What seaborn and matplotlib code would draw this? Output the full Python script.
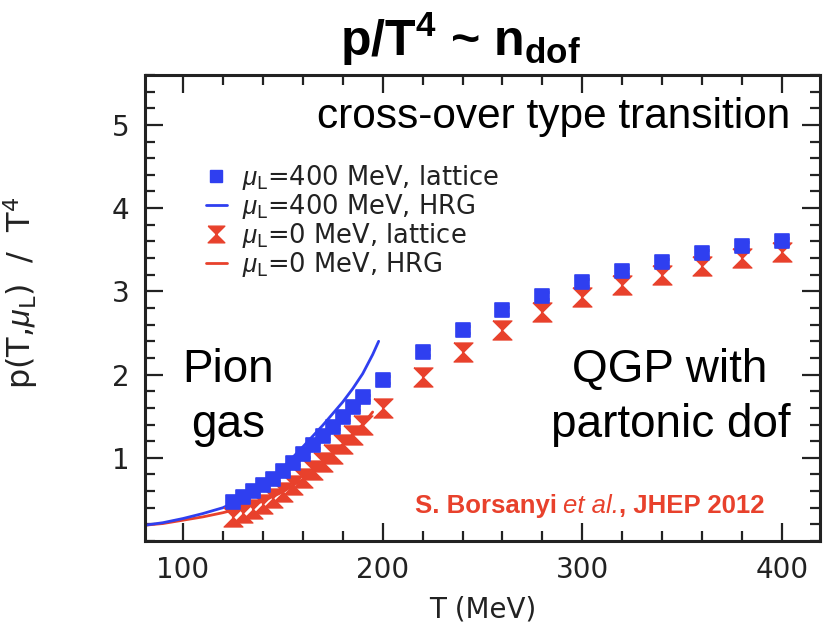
import matplotlib
matplotlib.use("Agg")
import matplotlib.pyplot as plt
import numpy as np
import pandas as pd
import seaborn as sns
from matplotlib.path import Path
from matplotlib.markers import MarkerStyle
from matplotlib.lines import Line2D
from matplotlib.ticker import MultipleLocator, FixedLocator

# Lattice temperatures (MeV)
T_lat = [125, 130, 135, 140, 145, 150, 155, 160, 165, 170, 175, 180, 185, 190,
         200, 220, 240, 260, 280, 300, 320, 340, 360, 380, 400]

# p/T^4 at mu_L = 400 MeV (lattice)
p_mu400_lat = [0.47, 0.53, 0.60, 0.67, 0.75, 0.84, 0.94, 1.04, 1.15, 1.26, 1.37,
               1.49, 1.61, 1.73, 1.94, 2.27, 2.54, 2.77, 2.95, 3.11, 3.245, 3.35,
               3.46, 3.55, 3.60]
err_mu400_lat = [0.03] * 14 + [0.04] * 11

# p/T^4 at mu_L = 0 MeV (lattice)
p_mu0_lat = [0.29, 0.34, 0.39, 0.45, 0.52, 0.59, 0.67, 0.76, 0.85, 0.95, 1.05,
             1.16, 1.27, 1.39, 1.60, 1.97, 2.27, 2.53, 2.75, 2.93, 3.08, 3.20,
             3.30, 3.40, 3.47]
err_mu0_lat = [0.03] * 14 + [0.05] * 11

# Hadron resonance gas curves
T_hrg_400 = [81, 90, 100, 110, 120, 130, 140, 150, 160, 170, 180, 185, 190, 195, 198]
p_hrg_400 = [0.19, 0.22, 0.27, 0.33, 0.40, 0.51, 0.67, 0.88, 1.13, 1.39, 1.67,
             1.83, 2.01, 2.24, 2.40]
T_hrg_0 = [81, 90, 100, 110, 120, 130, 140, 150, 160, 170, 180, 190, 195]
p_hrg_0 = [0.19, 0.21, 0.25, 0.29, 0.34, 0.40, 0.48, 0.59, 0.74, 0.93, 1.16,
           1.40, 1.55]

BLUE = "#2f3ff0"
RED = "#e8412c"
FRAME = "#222222"
INK = "#222222"

sns.set_theme(style="white")
plt.rcParams["font.family"] = ["DejaVu Sans"]
plt.rcParams["mathtext.fontset"] = "custom"
plt.rcParams["mathtext.rm"] = "Liberation Sans"
plt.rcParams["mathtext.bf"] = "Liberation Sans:bold"
plt.rcParams["mathtext.it"] = "Liberation Sans:italic"
plt.rcParams["mathtext.sf"] = "DejaVu Sans"

W, H = 830, 636
fig = plt.figure(figsize=(W / 100, H / 100), dpi=100)
ax = fig.add_axes([145 / W, 1 - 541 / H, (820 - 145) / W, (541 - 75) / H])

lat = pd.DataFrame({"T": T_lat, "p400": p_mu400_lat, "p0": p_mu0_lat,
                    "e400": err_mu400_lat, "e0": err_mu0_lat})
hrg400 = pd.DataFrame({"T": T_hrg_400, "p": p_hrg_400})
hrg0 = pd.DataFrame({"T": T_hrg_0, "p": p_hrg_0})

hourglass = MarkerStyle(Path([(-1, 1), (1, 1), (-1, -1), (1, -1), (-1, 1)]))

# HRG curves
sns.lineplot(data=hrg0, x="T", y="p", color=RED, lw=2, ax=ax, sort=False, zorder=1)
sns.lineplot(data=hrg400, x="T", y="p", color=BLUE, lw=2, ax=ax, sort=False, zorder=2)

# lattice points with error bars
ax.errorbar(lat["T"], lat["p0"], yerr=lat["e0"], fmt="none", ecolor=RED,
            elinewidth=1.5, capsize=0, zorder=3)
sns.scatterplot(data=lat, x="T", y="p0", marker=hourglass, s=190, color=RED,
                edgecolor=RED, linewidth=0.8, ax=ax, zorder=4)
ax.errorbar(lat["T"], lat["p400"], yerr=lat["e400"], fmt="none", ecolor=BLUE,
            elinewidth=1.5, capsize=5, capthick=2, zorder=5)
sns.scatterplot(data=lat, x="T", y="p400", marker="s", s=115, color=BLUE,
                edgecolor=BLUE, linewidth=1.2, ax=ax, zorder=6)

ax.set_xlim(81, 419)
ax.set_ylim(0, 5.6)
ax.xaxis.set_major_locator(FixedLocator([100, 200, 300, 400]))
ax.xaxis.set_minor_locator(MultipleLocator(20))
ax.yaxis.set_major_locator(FixedLocator([1, 2, 3, 4, 5]))
ax.yaxis.set_minor_locator(MultipleLocator(0.2))
ax.tick_params(which="both", direction="in", top=True, right=True, bottom=True,
               left=True, color=FRAME, width=1.6, labelsize=20, labelcolor=INK)
ax.tick_params(which="major", length=13, pad=11)
ax.tick_params(which="minor", length=7)
for s in ax.spines.values():
    s.set_color(FRAME)
    s.set_linewidth(2.2)

ax.set_xlabel("T (MeV)", fontsize=20, color=INK, labelpad=8)
ax.set_ylabel(r"p(T,$\mu_\mathsf{L}$)  /  T$^\mathsf{4}$", fontsize=23, color=INK)
ax.yaxis.set_label_coords((40 - 145) / 675, (541 - 293) / 466)

# legend
handles = [
    Line2D([], [], marker="s", color=BLUE, linestyle="none", markersize=9),
    Line2D([], [], color=BLUE, lw=2),
    Line2D([], [], marker=hourglass, color=RED, linestyle="none", markersize=12),
    Line2D([], [], color=RED, lw=2),
]
labels = [r"$\mu_\mathsf{L}$=400 MeV, lattice", r"$\mu_\mathsf{L}$=400 MeV, HRG",
          r"$\mu_\mathsf{L}$=0 MeV, lattice", r"$\mu_\mathsf{L}$=0 MeV, HRG"]
leg = ax.legend(handles, labels, loc="upper left", frameon=False, fontsize=18.5,
                bbox_to_anchor=((206 - 145) / 675, (541 - 163) / 466),
                handlelength=0.8, handletextpad=0.6, labelspacing=0.0,
                borderpad=0, borderaxespad=0)
for t in leg.get_texts():
    t.set_color(INK)

# annotations
ax.text(404, 4.96, "cross-over type transition", ha="right", va="baseline",
        fontsize=30.5, family="Liberation Sans", color="black")
ax.text(122.5, 1.91, "Pion", ha="center", va="baseline", fontsize=33,
        family="Liberation Sans", color="black")
ax.text(122.5, 1.25, "gas", ha="center", va="baseline", fontsize=33,
        family="Liberation Sans", color="black")
ax.text(343.5, 1.91, "QGP with", ha="center", va="baseline", fontsize=33,
        family="Liberation Sans", color="black")
ax.text(344.5, 1.25, "partonic dof", ha="center", va="baseline", fontsize=33,
        family="Liberation Sans", color="black")

# citation line: bold / italic / bold pieces set side by side
renderer = fig.canvas.get_renderer()
cite_parts = [("S. Borsanyi", "bold", "normal", 6),
              ("et al.", "normal", "italic", 0),
              (", JHEP 2012", "bold", "normal", 0)]
x_px, base_px = 415.0, H - 513.0
for txt, wt, st, gap in cite_parts:
    t = fig.text(x_px / W, base_px / H, txt, ha="left", va="baseline",
                 fontsize=18.5, family="Liberation Sans", weight=wt, style=st,
                 color=RED)
    x_px += t.get_window_extent(renderer).width + gap

fig.text(460 / W, 1 - 56 / H, r"p/T$^\mathbf{4}$ ~ n$_\mathbf{dof}$",
         ha="center", va="baseline", fontsize=36, color="black",
         family="Liberation Sans", weight="bold")

fig.savefig("out.png", dpi=100)
